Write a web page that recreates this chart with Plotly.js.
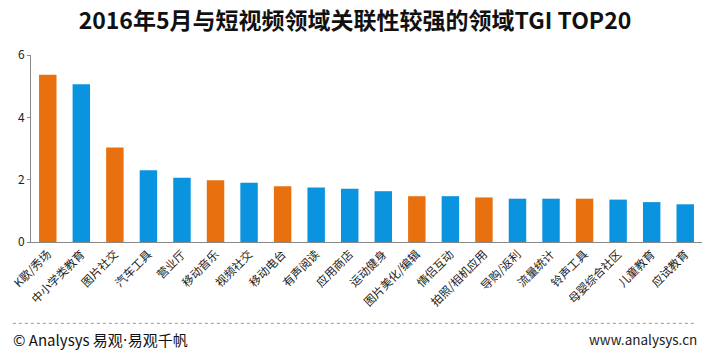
<!DOCTYPE html>
<html><head><meta charset="utf-8">
<script src="https://cdn.plot.ly/plotly-3.0.1.min.js"></script>
<style>html,body{margin:0;padding:0;background:#fff}#c{width:710px;height:356px}</style>
</head><body><div id="c"></div>
<script>
const categories = ["K歌/秀场","中小学类教育","图片社交","汽车工具","营业厅","移动音乐","视频社交","移动电台","有声阅读","应用商店","运动健身","图片美化/编辑","情侣互动","拍照/相机应用","导购/返利","流量统计","铃声工具","母婴综合社区","儿童教育","应试教育"];
const tgiValues = [5.37,5.06,3.03,2.30,2.06,1.98,1.90,1.79,1.75,1.71,1.63,1.47,1.47,1.43,1.39,1.39,1.39,1.36,1.28,1.21];
const highlighted = ["K歌/秀场","图片社交","移动音乐","移动电台","图片美化/编辑","拍照/相机应用","铃声工具"];
const yTicks = [0,2,4,6];
const orange = "#E8700E", blue = "#0A93DF";
const colors = categories.map(c => highlighted.includes(c) ? orange : blue);
const font = "'Noto Sans CJK SC', 'Noto Sans', sans-serif";
Plotly.newPlot("c", [{
  type: "bar", x: categories, y: tgiValues, marker: {color: colors}, hoverinfo: "x+y"
}], {
  width: 710, height: 356,
  margin: {l: 31, r: 8, t: 55, b: 114},
  paper_bgcolor: "#fff", plot_bgcolor: "#fff",
  bargap: 0.48,
  showlegend: false,
  title: {text: "2016年5月与短视频领域关联性较强的领域TGI TOP20", x: 0.5, xanchor: "center", y: 0.94, yanchor: "middle",
    font: {family: font, size: 23, weight: 600, color: "#111"}},
  xaxis: {tickangle: -45, tickfont: {family: font, size: 11.5, color: "#222"}, showline: true, linecolor: "#888", linewidth: 1,
    ticks: "", fixedrange: true, automargin: false},
  yaxis: {range: [0, 6], tickvals: yTicks, ticktext: yTicks.map(String), showgrid: false, zeroline: false,
    showline: true, linecolor: "#888", linewidth: 1, ticks: "outside", ticklen: 3, tickcolor: "#888",
    tickfont: {family: font, size: 12, color: "#222"}, automargin: false},
  shapes: [{type: "line", xref: "paper", yref: "paper", x0: -0.027, x1: 0.99, y0: -0.435, y1: -0.435,
    line: {color: "#999", width: 1, dash: "dot"}}],
  annotations: [
    {xref: "paper", yref: "paper", x: -0.03, y: -0.52, xanchor: "left", yanchor: "middle", showarrow: false,
     text: "© Analysys 易观<span style=\"font-family:'DejaVu Sans'\">·</span>易观千帆", font: {family: font, size: 15, color: "#111"}},
    {xref: "paper", yref: "paper", x: 0.995, y: -0.52, xanchor: "right", yanchor: "middle", showarrow: false,
     text: "www.analysys.cn", font: {family: font, size: 13.5, color: "#222"}}
  ]
}, {displayModeBar: false, staticPlot: true});
</script></body></html>
